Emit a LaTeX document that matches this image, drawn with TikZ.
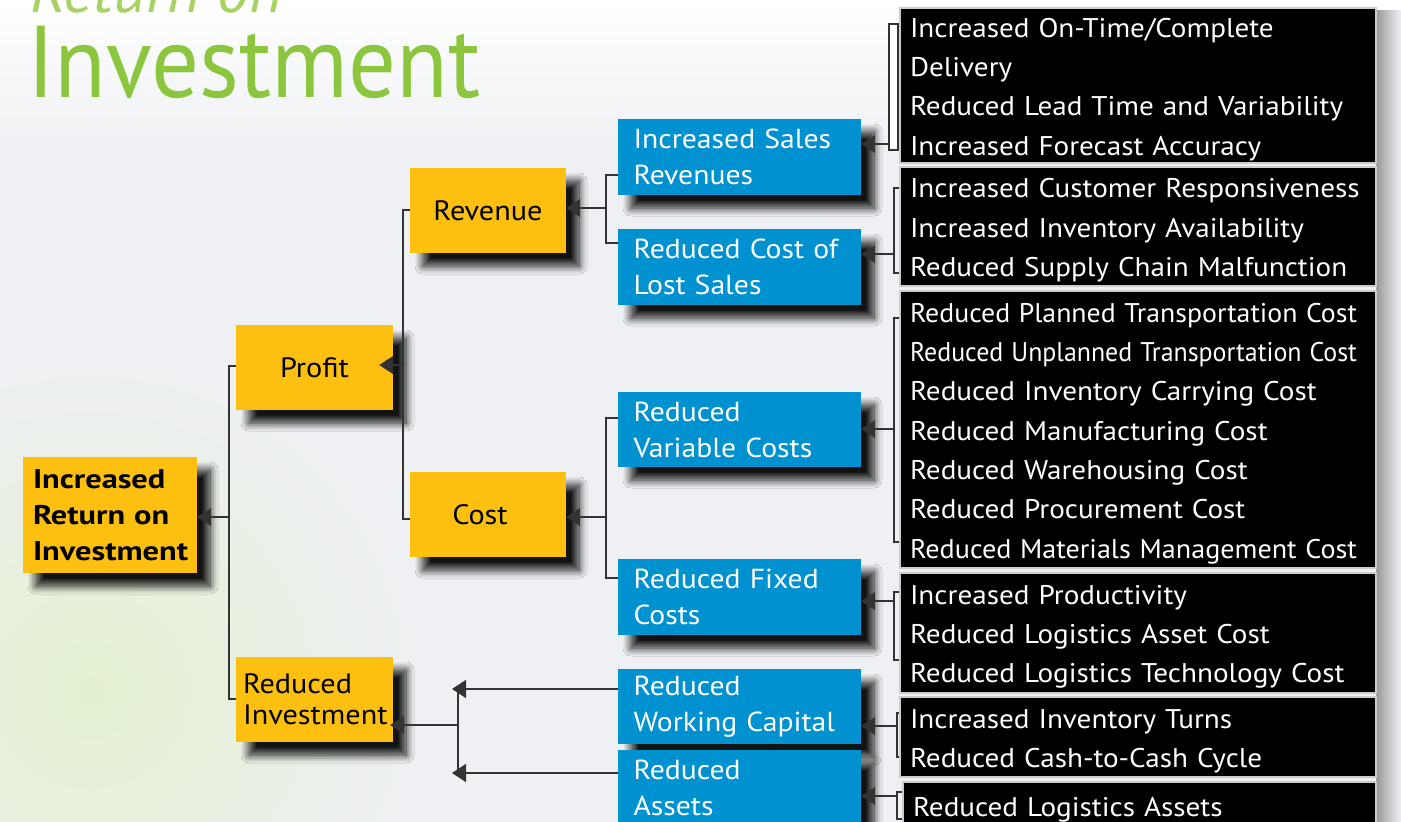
\documentclass[tikz,border=0pt]{standalone}
\usepackage{fontspec}
\setmainfont{PT Sans}[FakeStretch=1.08]
\newfontfamily\titlefont{PT Sans}
\usetikzlibrary{arrows.meta,shadows.blur}

\definecolor{roiyellow}{HTML}{FEC010}
\definecolor{roiblue}{HTML}{0091D0}
\definecolor{roigreen}{HTML}{8CC63F}
\definecolor{roilight}{HTML}{A8D262}
\definecolor{bggray}{HTML}{EEF0F3}
\definecolor{linegray}{HTML}{333333}

\newcommand\fitw[2]{\resizebox{#1}{\height}{#2}}

\tikzset{
  box/.style={inner sep=0pt,
    blur shadow={shadow xshift=13pt, shadow yshift=-13pt,
                 shadow blur radius=8pt, shadow blur steps=14, shadow opacity=92}},
  goalbox/.style={box, fill=roiyellow, minimum width=157pt, minimum height=85pt,
    align=center, font=\fontsize{28}{36}\selectfont},
  levbox/.style={box, fill=roiblue, text=white, minimum width=243pt,
    minimum height=76pt, text width=212pt, align=left,
    font=\fontsize{27.5}{36}\selectfont},
  driverbox/.style={fill=black, draw=black!20, line width=1.2pt, text=white,
    minimum width=476pt, text width=456pt, inner sep=0pt, align=left,
    font=\fontsize{27}{39.3}\selectfont,
    execute at begin node={\rule{0pt}{27pt}}},
  link/.style={draw=linegray, line width=1.4pt},
  feed/.style={link, -{Triangle[length=14pt,width=18pt]}},
  brace/.style={draw=linegray, line width=1.2pt}
}

\begin{document}
\begin{tikzpicture}[x=1pt,y=-1pt]
\useasboundingbox (0,0) rectangle (1401,822);
\begin{scope}
\clip (0,0) rectangle (1401,822);

% background
\fill[bggray] (0,0) rectangle (1401,822);
\shade[top color=white, bottom color=bggray] (0,0) rectangle (1401,150);
\shade[inner color={rgb,255:red,228;green,241;blue,208}, outer color=bggray]
  (90,690) circle[radius=330pt];
\shade[left color=black!40, right color=bggray] (1376,10) rectangle (1401,822);

% title
\node[anchor=base west, inner sep=0pt, text depth=0pt, text=roilight,
  font=\titlefont\fontsize{64}{64}\selectfont\itshape] (ttop) at (30,12) {Return on};
\node[anchor=base west, inner sep=0pt, text=roigreen,
  font=\titlefont\fontsize{102}{102}\selectfont] (title) at (27,97)
  {\fitw{453pt}{Investment}};

% goal tree
\node[goalbox, minimum width=174pt, minimum height=116pt, text width=154pt,
  align=left, font=\fontsize{27}{36}\selectfont\bfseries\addfontfeatures{FakeStretch=1.2}]
  (roi) at (110,515) {Increased\\Return on\\Investment};
\node[goalbox] (prof) at (314.5,367.5) {Profit};
\node[goalbox, minimum width=156pt] (rev) at (488,210.5) {Revenue};
\node[goalbox, minimum width=156pt] (cost) at (488,514.5) {Cost\hspace{16pt}};
\node[goalbox, text width=143pt, align=left,
  font=\fontsize{28}{31}\selectfont] (rinv) at (314.5,699.5)
  {Reduced\\Investment};

% levers
\node[levbox] (isr) at (739.5,157) {Increased Sales\\Revenues};
\node[levbox] (rlc) at (739.5,267) {Reduced Cost of\\Lost Sales};
\node[levbox, minimum height=75pt] (rvc) at (739.5,429.5) {Reduced\\Variable Costs};
\node[levbox] (rfc) at (739.5,597) {Reduced Fixed\\Costs};
\node[levbox, minimum height=75pt] (rwc) at (739.5,706.5) {Reduced\\Working Capital};
\node[levbox] (ras) at (739.5,788) {Reduced\\Assets};

% drivers
\node[driverbox, minimum height=155pt] (d1) at (1138,85.5)
  {Increased On-Time/Complete\\Delivery\\Reduced Lead Time and Variability\\Increased Forecast Accuracy};
\node[driverbox, minimum height=119pt] (d2) at (1138,226.5)
  {Increased Customer Responsiveness\\Increased Inventory Availability\\Reduced Supply Chain Malfunction};
\node[driverbox, minimum height=277pt] (d3) at (1138,429.5)
  {\fitw{447pt}{Reduced Planned Transportation Cost}\\
   \fitw{447pt}{Reduced Unplanned Transportation Cost}\\
   Reduced Inventory Carrying Cost\\Reduced Manufacturing Cost\\
   Reduced Warehousing Cost\\Reduced Procurement Cost\\
   \fitw{447pt}{Reduced Materials Management Cost}};
\node[driverbox, minimum height=120pt] (d4) at (1138,633)
  {Increased Productivity\\Reduced Logistics Asset Cost\\Reduced Logistics Technology Cost};
\node[driverbox, minimum height=80pt] (d5) at (1138,737)
  {Increased Inventory Turns\\Reduced Cash-to-Cash Cycle};
\node[driverbox, minimum width=473pt, text width=453pt, minimum height=48pt]
  (d6) at (1139.5,806) {Reduced Logistics Assets};

% tree connectors
\coordinate (jroi) at (229,517);
\coordinate (jprof) at (403,365);
\coordinate (jrev) at (606,208);
\coordinate (jcost) at (606,517);
\coordinate (jinv) at (458,725);

\draw[link] (prof.west |- 0,366) -| (jroi) |- (rinv.west |- 0,699);
\draw[feed] (jroi) -- (roi.east |- jroi);

\draw[link] (rev.west |- 0,210) -| (jprof) |- (cost.west |- 0,519);
\draw[feed, shorten >=-14pt] (jprof) -- (prof.east |- jprof);

\draw[link] (isr.west |- 0,175) -| (jrev) |- (rlc.west |- 0,243);
\draw[feed] (jrev) -- (rev.east |- jrev);

\draw[link] (rvc.west |- 0,418) -| (jcost) |- (rfc.west |- 0,578);
\draw[feed] (jcost) -- (cost.east |- jcost);

\draw[link] (jinv |- 0,689) -- (jinv |- 0,773);
\draw[feed, shorten >=-3pt] (jinv) -- (rinv.east |- jinv);
\draw[feed] (rwc.west |- 0,689) -- (452,689);
\draw[feed] (ras.west |- 0,773) -- (452,773);

% driver brackets
\coordinate (k1) at (889,144);
\coordinate (k2) at (894,254);
\coordinate (k3) at (894,429);
\coordinate (k4) at (894,601);
\coordinate (k5) at (897,726);
\coordinate (k6) at (897,796);

\filldraw[brace, fill=white] (889,24) rectangle (898,150);
\draw[brace] (d2.west |- 0,188) -- (894,188) -- (894,273) -- (d2.west |- 0,273);
\draw[brace] (d3.west |- 0,318) -- (894,318) -- (894,542) -- (d3.west |- 0,542);
\draw[brace] (d4.west |- 0,592) -- (894,592) -- (894,660) -- (d4.west |- 0,660);
\draw[brace] (d5.west |- 0,713) -- (897,713) -- (897,757) -- (d5.west |- 0,757);
\draw[brace] (d6.west |- 0,792) -- (897,792) -- (897,819) -- (d6.west |- 0,819);

\draw[feed] (k1) -- (isr.east |- k1);
\draw[feed] (k2) -- (rlc.east |- k2);
\draw[feed] (k3) -- (rvc.east |- k3);
\draw[feed] (k4) -- (rfc.east |- k4);
\draw[feed] (k5) -- (rwc.east |- k5);
\draw[feed] (k6) -- (ras.east |- k6);
\end{scope}
\end{tikzpicture}
\end{document}
